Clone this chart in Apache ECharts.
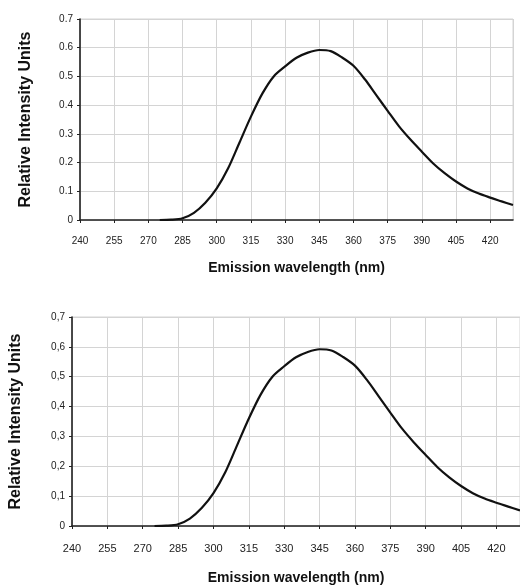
<!DOCTYPE html>
<html>
<head>
    <meta charset="utf-8">
    <title>Emission spectrum</title>
    <script src="https://cdn.jsdelivr.net/npm/echarts@6/dist/echarts.min.js"></script>
    <style>
        html, body { margin: 0; padding: 0; background: #fff; }
        #main { width: 520px; height: 588px; }
    </style>
</head>
<body>
    <div id="main"></div>
    <script>
        // emission wavelength (nm) and relative intensity
        var wavelengths = [275, 280, 285, 290, 295, 300, 305, 310, 315, 320, 325, 330, 335, 340, 345, 350,
            355, 360, 365, 370, 375, 380, 385, 390, 395, 400, 405, 410, 415, 420, 425, 430];
        var intensity = [0, 0.001, 0.006, 0.025, 0.06, 0.11, 0.18, 0.27, 0.36, 0.44, 0.5, 0.535, 0.565, 0.583, 0.592, 0.588,
            0.566, 0.537, 0.49, 0.435, 0.38, 0.326, 0.28, 0.238, 0.197, 0.163, 0.134, 0.11, 0.092, 0.078, 0.065, 0.052];
        var xTitle = 'Emission wavelength (nm)';
        var yTitle = 'Relative Intensity Units';

        var points = wavelengths.map(function (w, i) { return [w, intensity[i]]; });

        var chart = echarts.init(document.getElementById('main'));

        var gridColor = '#d4d4d4';
        var lineColor = '#222';
        var tickFont = '"Liberation Sans Narrow", "Liberation Sans", Arial, sans-serif';
        var titleFont = '"Liberation Sans", Arial, sans-serif';

        function xAxisFor(gridIndex, labelSize, labelMargin, nameGap) {
            return {
                type: 'value',
                gridIndex: gridIndex,
                min: 240,
                max: 430,
                interval: 15,
                name: xTitle,
                nameLocation: 'middle',
                nameGap: nameGap,
                nameTextStyle: { fontFamily: titleFont, fontWeight: 'bold', fontSize: 14, color: '#111' },
                axisLine: { show: true, lineStyle: { color: lineColor, width: 1.6 } },
                axisTick: { show: true, length: 3, lineStyle: { color: lineColor } },
                axisLabel: { margin: labelMargin, fontFamily: tickFont, fontSize: labelSize, color: '#222', showMaxLabel: false },
                splitLine: { show: true, lineStyle: { color: gridColor, width: 1 } }
            };
        }

        function yAxisFor(gridIndex, sep, nameGap, nameSize) {
            return {
                type: 'value',
                gridIndex: gridIndex,
                min: 0,
                max: 0.7,
                interval: 0.1,
                name: yTitle,
                nameLocation: 'middle',
                nameGap: nameGap,
                nameTextStyle: { fontFamily: titleFont, fontWeight: 'bold', fontSize: nameSize, color: '#111' },
                axisLine: { show: true, lineStyle: { color: lineColor, width: 1.6 } },
                axisTick: { show: true, length: 3, lineStyle: { color: lineColor } },
                axisLabel: {
                    margin: 7,
                    fontFamily: tickFont,
                    fontSize: 10,
                    color: '#222',
                    formatter: function (v) {
                        if (v === 0) return '0';
                        return v.toFixed(1).replace('.', sep);
                    }
                },
                splitLine: { show: true, lineStyle: { color: gridColor, width: 1 } }
            };
        }

        var option = {
            animation: false,
            backgroundColor: '#fff',
            grid: [
                { left: 80, top: 19, width: 433, height: 201, show: true, borderColor: gridColor, borderWidth: 1 },
                { left: 71, top: 317, width: 455, height: 209, show: true, borderColor: gridColor, borderWidth: 1 }
            ],
            xAxis: [
                xAxisFor(0, 10, 16, 41),
                xAxisFor(1, 11, 17, 45)
            ],
            yAxis: [
                yAxisFor(0, '.', 46, 16),
                yAxisFor(1, ',', 48, 16)
            ],
            series: [{
                type: 'line',
                xAxisIndex: 0,
                yAxisIndex: 0,
                data: points,
                smooth: 0.3,
                showSymbol: false,
                lineStyle: { color: '#111', width: 2.2 }
            }, {
                type: 'line',
                xAxisIndex: 1,
                yAxisIndex: 1,
                data: points,
                smooth: 0.3,
                showSymbol: false,
                lineStyle: { color: '#111', width: 2.2 }
            }]
        };

        chart.setOption(option);
    </script>
</body>
</html>
